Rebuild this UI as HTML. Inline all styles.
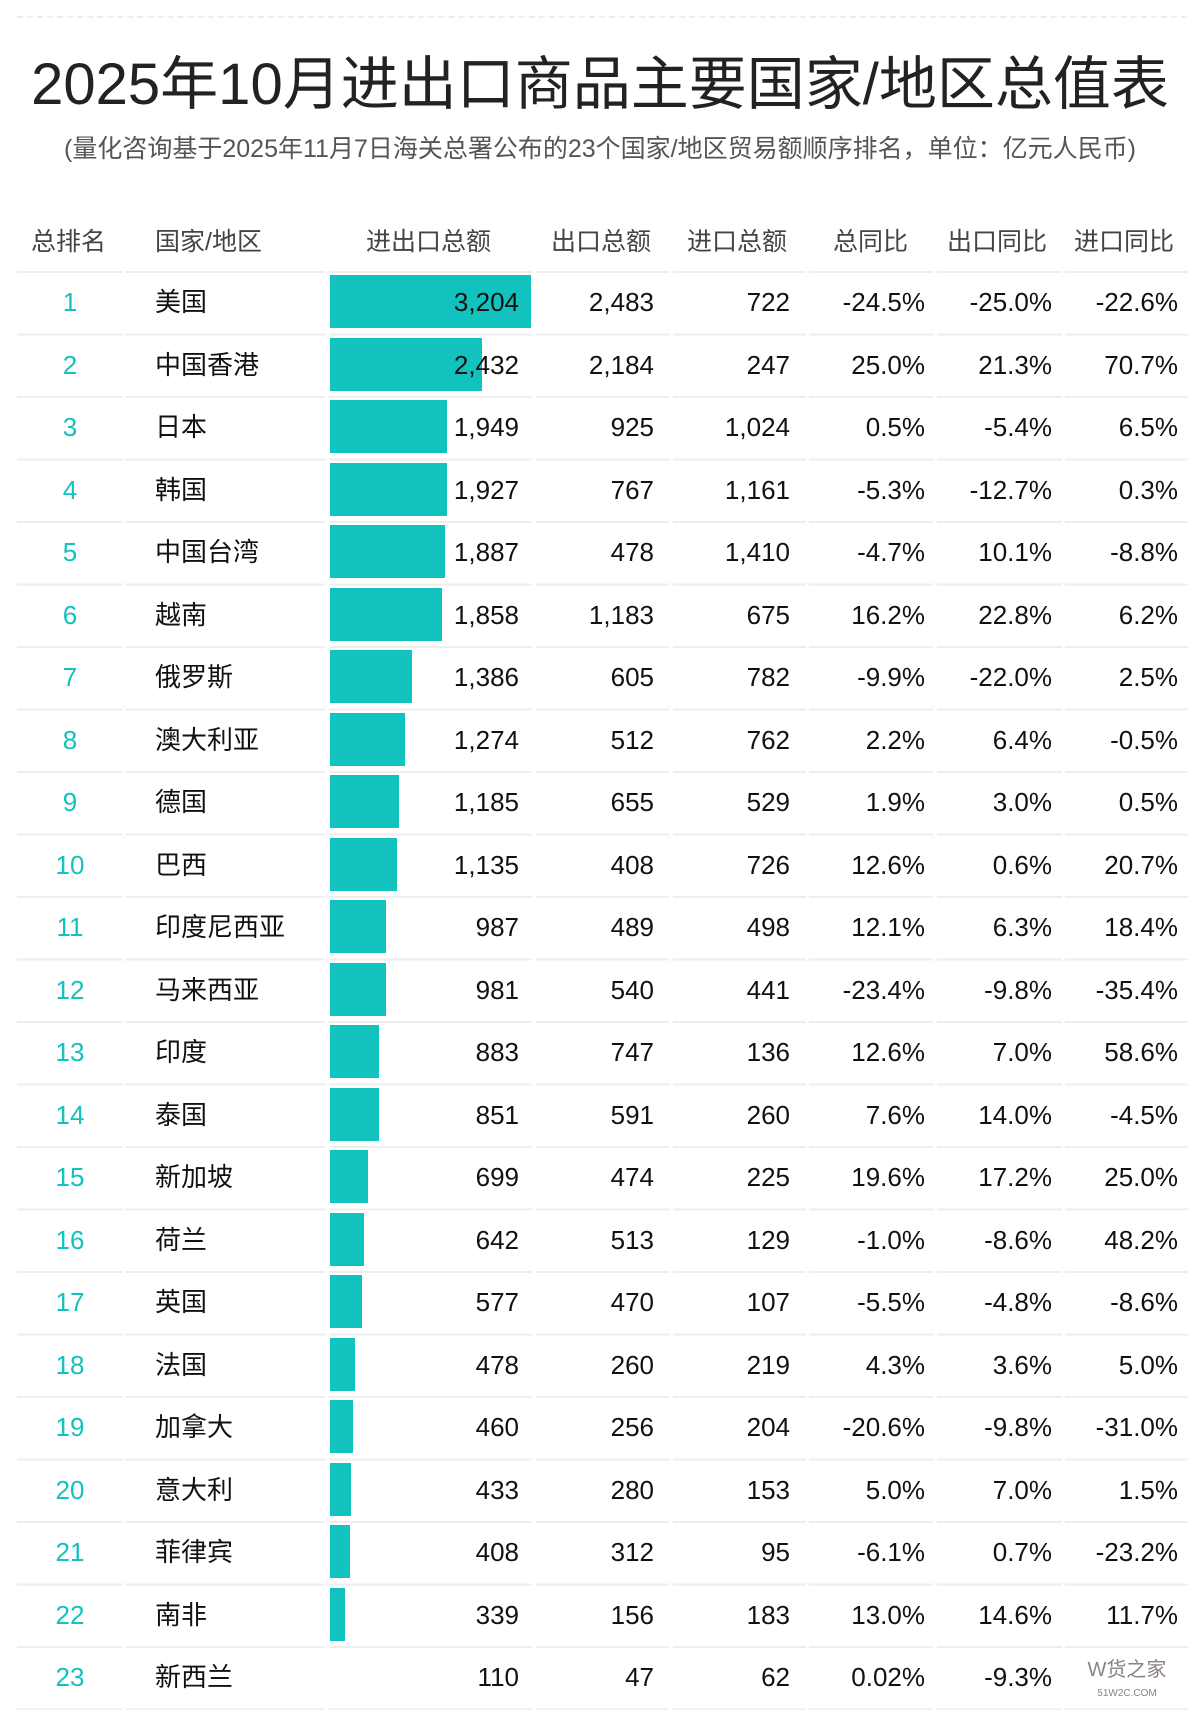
<!DOCTYPE html>
<html><head><meta charset="utf-8"><style>
*{margin:0;padding:0;box-sizing:border-box}
body{width:1200px;height:1723px;background:#fff;position:relative;overflow:hidden;font-family:"Liberation Sans","Noto Sans CJK SC",sans-serif;color:#111}
.dot{position:absolute;left:17px;width:1170px;top:16px;border-top:2px dashed #eee}
h1{position:absolute;left:0;width:1200px;top:37px;text-align:center;font-size:58px;font-weight:normal;color:#222;white-space:nowrap}
.sub{position:absolute;left:0;width:1200px;top:129px;text-align:center;font-size:25px;color:#555;white-space:nowrap}
.hd{position:absolute;top:222px;font-size:25px;color:#444;white-space:nowrap}
.r{position:absolute;left:0;width:1200px;height:63px}
.c{position:absolute;top:0;line-height:63px;font-size:26px;white-space:nowrap}
.rk{left:30px;width:80px;text-align:center;color:#12c2be}
.nm{left:155px}
.bar{position:absolute;left:330px;top:4px;height:53px;background:#12c2be}
.n1{right:681px}.n2{right:546px}.n3{right:410px}.n4{right:275px}.n5{right:148px}.n6{right:22px}
</style></head><body>
<div class="dot"></div>
<h1>2025年10月进出口商品主要国家/地区总值表</h1>
<div class="sub">(量化咨询基于2025年11月7日海关总署公布的23个国家/地区贸易额顺序排名，单位：亿元人民币)</div>
<div class="hd" style="left:31px">总排名</div>
<div class="hd" style="left:155px">国家/地区</div>
<div class="hd" style="left:366px">进出口总额</div>
<div class="hd" style="left:551px">出口总额</div>
<div class="hd" style="left:687px">进口总额</div>
<div class="hd" style="left:833px">总同比</div>
<div class="hd" style="left:947px">出口同比</div>
<div class="hd" style="left:1074px">进口同比</div>
<div class="r" style="top:271px"><div class="bar" style="width:201px"></div><div class="c rk">1</div><div class="c nm">美国</div><div class="c n1">3,204</div><div class="c n2">2,483</div><div class="c n3">722</div><div class="c n4">-24.5%</div><div class="c n5">-25.0%</div><div class="c n6">-22.6%</div></div>
<div class="r" style="top:333.5px"><div class="bar" style="width:152px"></div><div class="c rk">2</div><div class="c nm">中国香港</div><div class="c n1">2,432</div><div class="c n2">2,184</div><div class="c n3">247</div><div class="c n4">25.0%</div><div class="c n5">21.3%</div><div class="c n6">70.7%</div></div>
<div class="r" style="top:396px"><div class="bar" style="width:117px"></div><div class="c rk">3</div><div class="c nm">日本</div><div class="c n1">1,949</div><div class="c n2">925</div><div class="c n3">1,024</div><div class="c n4">0.5%</div><div class="c n5">-5.4%</div><div class="c n6">6.5%</div></div>
<div class="r" style="top:458.5px"><div class="bar" style="width:117px"></div><div class="c rk">4</div><div class="c nm">韩国</div><div class="c n1">1,927</div><div class="c n2">767</div><div class="c n3">1,161</div><div class="c n4">-5.3%</div><div class="c n5">-12.7%</div><div class="c n6">0.3%</div></div>
<div class="r" style="top:521px"><div class="bar" style="width:115px"></div><div class="c rk">5</div><div class="c nm">中国台湾</div><div class="c n1">1,887</div><div class="c n2">478</div><div class="c n3">1,410</div><div class="c n4">-4.7%</div><div class="c n5">10.1%</div><div class="c n6">-8.8%</div></div>
<div class="r" style="top:583.5px"><div class="bar" style="width:112px"></div><div class="c rk">6</div><div class="c nm">越南</div><div class="c n1">1,858</div><div class="c n2">1,183</div><div class="c n3">675</div><div class="c n4">16.2%</div><div class="c n5">22.8%</div><div class="c n6">6.2%</div></div>
<div class="r" style="top:646px"><div class="bar" style="width:82px"></div><div class="c rk">7</div><div class="c nm">俄罗斯</div><div class="c n1">1,386</div><div class="c n2">605</div><div class="c n3">782</div><div class="c n4">-9.9%</div><div class="c n5">-22.0%</div><div class="c n6">2.5%</div></div>
<div class="r" style="top:708.5px"><div class="bar" style="width:75px"></div><div class="c rk">8</div><div class="c nm">澳大利亚</div><div class="c n1">1,274</div><div class="c n2">512</div><div class="c n3">762</div><div class="c n4">2.2%</div><div class="c n5">6.4%</div><div class="c n6">-0.5%</div></div>
<div class="r" style="top:771px"><div class="bar" style="width:69px"></div><div class="c rk">9</div><div class="c nm">德国</div><div class="c n1">1,185</div><div class="c n2">655</div><div class="c n3">529</div><div class="c n4">1.9%</div><div class="c n5">3.0%</div><div class="c n6">0.5%</div></div>
<div class="r" style="top:833.5px"><div class="bar" style="width:67px"></div><div class="c rk">10</div><div class="c nm">巴西</div><div class="c n1">1,135</div><div class="c n2">408</div><div class="c n3">726</div><div class="c n4">12.6%</div><div class="c n5">0.6%</div><div class="c n6">20.7%</div></div>
<div class="r" style="top:896px"><div class="bar" style="width:56px"></div><div class="c rk">11</div><div class="c nm">印度尼西亚</div><div class="c n1">987</div><div class="c n2">489</div><div class="c n3">498</div><div class="c n4">12.1%</div><div class="c n5">6.3%</div><div class="c n6">18.4%</div></div>
<div class="r" style="top:958.5px"><div class="bar" style="width:56px"></div><div class="c rk">12</div><div class="c nm">马来西亚</div><div class="c n1">981</div><div class="c n2">540</div><div class="c n3">441</div><div class="c n4">-23.4%</div><div class="c n5">-9.8%</div><div class="c n6">-35.4%</div></div>
<div class="r" style="top:1021px"><div class="bar" style="width:49px"></div><div class="c rk">13</div><div class="c nm">印度</div><div class="c n1">883</div><div class="c n2">747</div><div class="c n3">136</div><div class="c n4">12.6%</div><div class="c n5">7.0%</div><div class="c n6">58.6%</div></div>
<div class="r" style="top:1083.5px"><div class="bar" style="width:49px"></div><div class="c rk">14</div><div class="c nm">泰国</div><div class="c n1">851</div><div class="c n2">591</div><div class="c n3">260</div><div class="c n4">7.6%</div><div class="c n5">14.0%</div><div class="c n6">-4.5%</div></div>
<div class="r" style="top:1146px"><div class="bar" style="width:38px"></div><div class="c rk">15</div><div class="c nm">新加坡</div><div class="c n1">699</div><div class="c n2">474</div><div class="c n3">225</div><div class="c n4">19.6%</div><div class="c n5">17.2%</div><div class="c n6">25.0%</div></div>
<div class="r" style="top:1208.5px"><div class="bar" style="width:34px"></div><div class="c rk">16</div><div class="c nm">荷兰</div><div class="c n1">642</div><div class="c n2">513</div><div class="c n3">129</div><div class="c n4">-1.0%</div><div class="c n5">-8.6%</div><div class="c n6">48.2%</div></div>
<div class="r" style="top:1271px"><div class="bar" style="width:32px"></div><div class="c rk">17</div><div class="c nm">英国</div><div class="c n1">577</div><div class="c n2">470</div><div class="c n3">107</div><div class="c n4">-5.5%</div><div class="c n5">-4.8%</div><div class="c n6">-8.6%</div></div>
<div class="r" style="top:1333.5px"><div class="bar" style="width:25px"></div><div class="c rk">18</div><div class="c nm">法国</div><div class="c n1">478</div><div class="c n2">260</div><div class="c n3">219</div><div class="c n4">4.3%</div><div class="c n5">3.6%</div><div class="c n6">5.0%</div></div>
<div class="r" style="top:1396px"><div class="bar" style="width:23px"></div><div class="c rk">19</div><div class="c nm">加拿大</div><div class="c n1">460</div><div class="c n2">256</div><div class="c n3">204</div><div class="c n4">-20.6%</div><div class="c n5">-9.8%</div><div class="c n6">-31.0%</div></div>
<div class="r" style="top:1458.5px"><div class="bar" style="width:21px"></div><div class="c rk">20</div><div class="c nm">意大利</div><div class="c n1">433</div><div class="c n2">280</div><div class="c n3">153</div><div class="c n4">5.0%</div><div class="c n5">7.0%</div><div class="c n6">1.5%</div></div>
<div class="r" style="top:1521px"><div class="bar" style="width:20px"></div><div class="c rk">21</div><div class="c nm">菲律宾</div><div class="c n1">408</div><div class="c n2">312</div><div class="c n3">95</div><div class="c n4">-6.1%</div><div class="c n5">0.7%</div><div class="c n6">-23.2%</div></div>
<div class="r" style="top:1583.5px"><div class="bar" style="width:15px"></div><div class="c rk">22</div><div class="c nm">南非</div><div class="c n1">339</div><div class="c n2">156</div><div class="c n3">183</div><div class="c n4">13.0%</div><div class="c n5">14.6%</div><div class="c n6">11.7%</div></div>
<div class="r" style="top:1646px"><div class="c rk">23</div><div class="c nm">新西兰</div><div class="c n1">110</div><div class="c n2">47</div><div class="c n3">62</div><div class="c n4">0.02%</div><div class="c n5">-9.3%</div></div>
<div style="position:absolute;left:1068px;top:1652px;width:118px;height:58px;color:#8a8380;font-size:20px;text-align:center;line-height:36px">W货之家<div style="font-size:10px;line-height:12px">51W2C.COM</div></div>
<svg width="1200" height="1723" style="position:absolute;left:0;top:0;pointer-events:none">
<defs><pattern id="p" x="0" y="271" width="1200" height="62.5" patternUnits="userSpaceOnUse">
<rect x="17" y="0" width="105" height="2" fill="#eee"/><rect x="125" y="0" width="200" height="2" fill="#eee"/><rect x="329" y="0" width="203" height="2" fill="#eee"/><rect x="536" y="0" width="133" height="2" fill="#eee"/><rect x="673" y="0" width="133" height="2" fill="#eee"/><rect x="809" y="0" width="124" height="2" fill="#eee"/><rect x="937" y="0" width="125" height="2" fill="#eee"/><rect x="1065" y="0" width="123" height="2" fill="#eee"/>
</pattern></defs>
<rect x="0" y="270" width="1200" height="1440" fill="url(#p)"/>
</svg>
</body></html>
